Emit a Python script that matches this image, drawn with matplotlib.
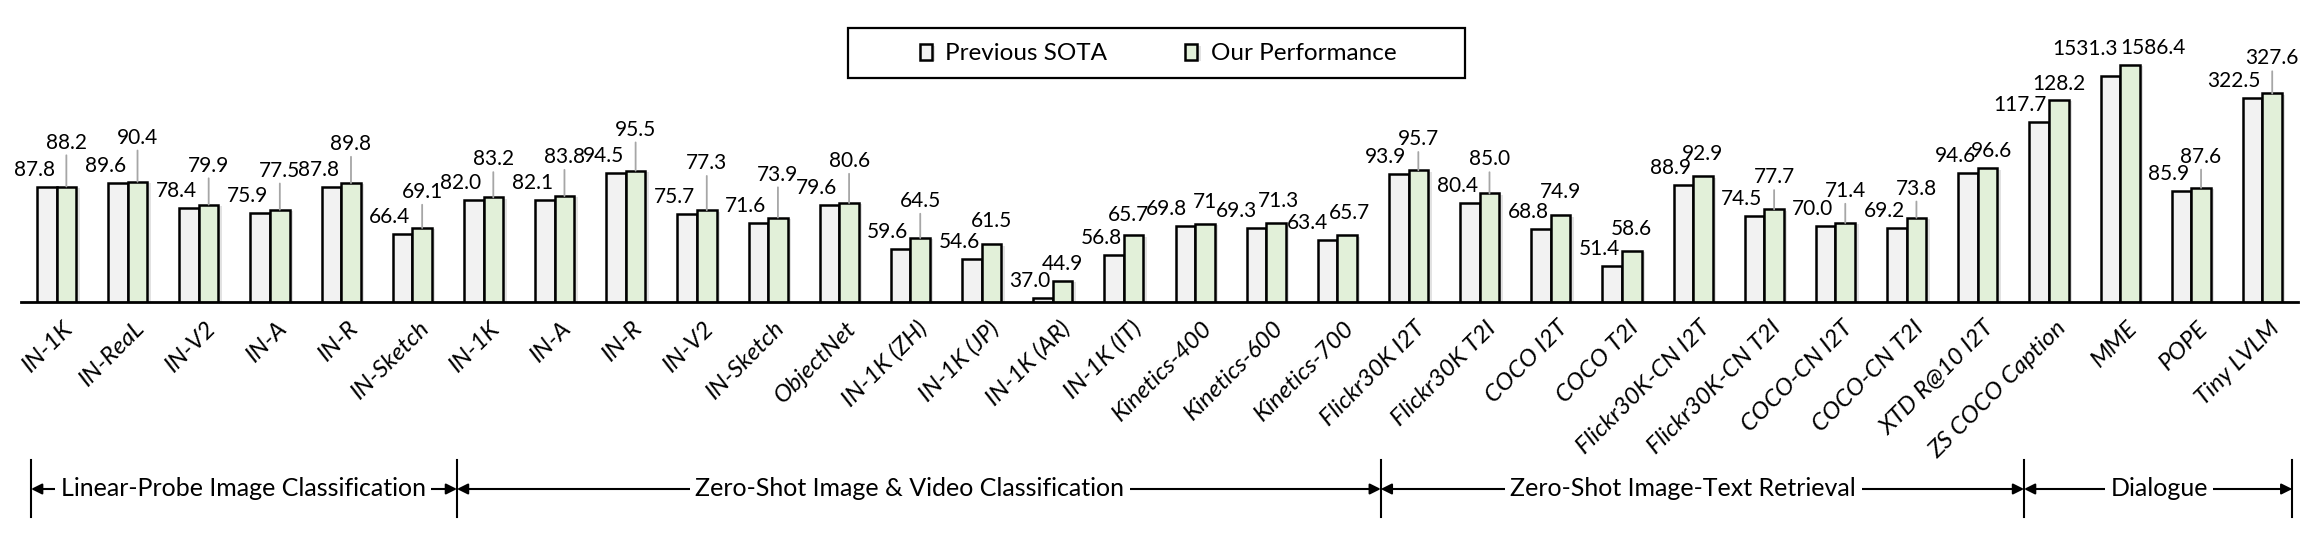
import numpy as np
import matplotlib
matplotlib.use("Agg")
import matplotlib.pyplot as plt
import matplotlib.transforms as mtransforms
import matplotlib.patheffects as pe
from matplotlib.patches import Rectangle

# ---------------- data ----------------
categories = ["IN-1K", "IN-ReaL", "IN-V2", "IN-A", "IN-R", "IN-Sketch",
              "IN-1K", "IN-A", "IN-R", "IN-V2", "IN-Sketch", "ObjectNet",
              "IN-1K (ZH)", "IN-1K (JP)", "IN-1K (AR)", "IN-1K (IT)",
              "Kinetics-400", "Kinetics-600", "Kinetics-700",
              "Flickr30K I2T", "Flickr30K T2I", "COCO I2T", "COCO T2I",
              "Flickr30K-CN I2T", "Flickr30K-CN T2I", "COCO-CN I2T", "COCO-CN T2I",
              "XTD R@10 I2T", "ZS COCO Caption", "MME", "POPE", "Tiny LVLM"]
previous_sota = [87.8, 89.6, 78.4, 75.9, 87.8, 66.4,
                 82.0, 82.1, 94.5, 75.7, 71.6, 79.6,
                 59.6, 54.6, 37.0, 56.8, 69.8, 69.3, 63.4,
                 93.9, 80.4, 68.8, 51.4, 88.9, 74.5, 70.0, 69.2,
                 94.6, 117.7, 1531.3, 85.9, 322.5]
our_performance = [88.2, 90.4, 79.9, 77.5, 89.8, 69.1,
                   83.2, 83.8, 95.5, 77.3, 73.9, 80.6,
                   64.5, 61.5, 44.9, 65.7, 71, 71.3, 65.7,
                   95.7, 85.0, 74.9, 58.6, 92.9, 77.7, 71.4, 73.8,
                   96.6, 128.2, 1586.4, 87.6, 327.6]
# metrics on other scales are shrunk for display (MME /11, Tiny LVLM /2.5)
display_divisor = [1] * 29 + [11, 1, 2.5]
group_names = ["Linear-Probe Image Classification",
               "Zero-Shot Image & Video Classification",
               "Zero-Shot Image-Text Retrieval", "Dialogue"]

# ---------------- layout constants ----------------
DPI = 100
W, H = 2314, 538
PT = 72.0 / DPI  # points per pixel
ours_label_gap_px = [38, 38, 33, 33, 33, 30,
                     32, 33, 35, 41, 37, 36, 31, 17, 11, 14, 16, 16, 16,
                     25, 28, 17, 16, 16, 26, 26, 23, 11, 10,
                     11, 25, 29]
prev_label_gap_px = [11] * 29 + [21, 11, 11]
prev_label_dx_px = [-2] * 16 + [-8, -9, -9] + [-2] * 13
ours_label_dx_px = [0] * 15 + [-5, 0, 2, 2] + [0] * 8 + [4, 0] + [23, 0, 0]
separators = [-0.358, 5.627, 18.61, 27.65, 31.42]
group_text_x = [2.62, 11.99, 22.86, 29.55]

FONT = "Lato"
plt.rcParams["font.family"] = [FONT, "DejaVu Sans"]

fig = plt.figure(figsize=(W / DPI, H / DPI), dpi=DPI)
ax = fig.add_axes([21 / W, (H - 302) / H, (2298 - 21) / W, 302 / H])

x = np.arange(len(categories))
prev_disp = np.array(previous_sota) / np.array(display_divisor)
ours_disp = np.array(our_performance) / np.array(display_divisor)
bw = 0.275

shadow = [pe.SimplePatchShadow(offset=(2.5, -1.0), shadow_rgbFace="#7f7f7f", alpha=0.22), pe.Normal()]
b1 = ax.bar(x - bw / 2, prev_disp, bw, color="#F2F2F2", edgecolor="black",
            linewidth=1.8, label="Previous SOTA", zorder=3)
b2 = ax.bar(x + bw / 2, ours_disp, bw, color="#E2F0D9", edgecolor="black",
            linewidth=1.8, label="Our Performance", zorder=3)
for p in list(b1) + list(b2):
    p.set_path_effects(shadow)

ax.set_xlim(-0.5, 31.5)
ax.set_ylim(35.0, 35.0 + 302 / 2.171)
for s in ["top", "right", "left"]:
    ax.spines[s].set_visible(False)
ax.spines["bottom"].set_linewidth(2.0)
ax.spines["bottom"].set_zorder(5)
ax.set_yticks([])
ax.set_xticks(x, categories, rotation=45, ha="right", rotation_mode="anchor",
              fontstyle="italic", fontsize=17.5)
ax.tick_params(axis="x", length=0, pad=11)
off = mtransforms.ScaledTranslation(6 / DPI, 0, fig.dpi_scale_trans)
for lab in ax.get_xticklabels():
    lab.set_transform(lab.get_transform() + off)


def fmt(v):
    return f"{v:.1f}" if isinstance(v, float) else str(v)


for i in range(len(categories)):
    ax.annotate(fmt(previous_sota[i]), xy=(i, prev_disp[i]), xycoords="data",
                xytext=(prev_label_dx_px[i] * PT, prev_label_gap_px[i] * PT),
                textcoords="offset points",
                ha="right", va="baseline", fontsize=15, zorder=6)
    g = ours_label_gap_px[i]
    kw = {}
    if g > 20:
        kw["arrowprops"] = dict(arrowstyle="-", color="#A6A6A6", lw=1.3,
                                shrinkA=0, shrinkB=0)
    ax.annotate(fmt(our_performance[i]), xy=(i + bw / 2, ours_disp[i]), xycoords="data",
                xytext=(ours_label_dx_px[i] * PT, g * PT), textcoords="offset points",
                ha="center", va="baseline", fontsize=15, zorder=6, **kw)

# legend
fig.add_artist(Rectangle((848 / W, 1 - 78 / H), 617 / W, 50 / H, transform=fig.transFigure,
                         fill=False, edgecolor="black", linewidth=1.6))
fig.legend(handles=[b1, b2], loc="center", bbox_to_anchor=(1158 / W, 1 - 54 / H),
           ncol=2, frameon=False, fontsize=17.5, handlelength=0.5, handleheight=0.6,
           handletextpad=0.55, columnspacing=3.2)

# group annotations
trans = mtransforms.blended_transform_factory(ax.transData, fig.transFigure)
y_top, y_bot, y_arrow = 1 - 460 / H, 1 - 517 / H, 1 - 489 / H
for sx in separators:
    ax.plot([sx, sx], [y_bot, y_top], transform=trans, clip_on=False, color="black", lw=1.5)
for k in range(4):
    ax.annotate("", xy=(separators[k + 1], y_arrow), xycoords=trans,
                xytext=(separators[k], y_arrow), textcoords=trans,
                arrowprops=dict(arrowstyle="<|-|>", color="black", lw=1.5,
                                shrinkA=0, shrinkB=0, mutation_scale=16))
    ax.text(group_text_x[k], y_arrow, group_names[k], transform=trans, ha="center",
            va="center", fontsize=18,
            bbox=dict(facecolor="white", edgecolor="none", pad=4))

fig.savefig("out.png", dpi=DPI)
